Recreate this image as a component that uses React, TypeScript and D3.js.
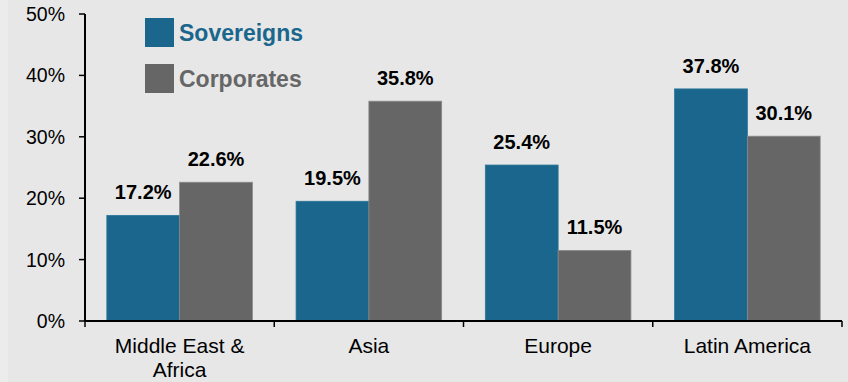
import React from "react";
import * as d3 from "d3";

const regions = ["Middle East & Africa", "Asia", "Europe", "Latin America"];
const regionLines = [["Middle East &", "Africa"], ["Asia"], ["Europe"], ["Latin America"]];
const seriesNames = ["Sovereigns", "Corporates"];
const sovereigns = [17.2, 19.5, 25.4, 37.8];
const corporates = [22.6, 35.8, 11.5, 30.1];
const yTicks = [0, 10, 20, 30, 40, 50];
const colors = ["#1a668c", "#666666"];

const W = 848;
const H = 382;
const FONT = "'Liberation Sans', Arial, sans-serif";

export default function App() {
  const x = d3.scaleBand<string>().domain(regions).range([85, 842]);
  const inner = d3
    .scaleBand<string>()
    .domain(seriesNames)
    .range([0, x.bandwidth()])
    .paddingOuter(0.3)
    .paddingInner(0);
  const y = d3.scaleLinear().domain([0, 50]).range([321, 14]);
  const values = [sovereigns, corporates];

  return (
    <svg width={W} height={H} style={{ display: "block", position: "absolute", left: 0, top: 0 }} fontFamily={FONT}>
      <rect x={0} y={0} width={W} height={H} fill="#ececec" />
      <rect x={8} y={0} width={W - 8} height={H} fill="#e7e7e7" />

      {/* bars and value labels */}
      {regions.map((r, i) => (
        <g key={r} transform={`translate(${x(r)},0)`}>
          {seriesNames.map((s, k) => {
            const v = values[k][i];
            const bx = inner(s)!;
            const bw = inner.bandwidth();
            return (
              <g key={s}>
                <rect
                  x={bx}
                  y={y(v)}
                  width={bw}
                  height={y(0) - y(v)}
                  fill={colors[k]}
                  stroke={k === 1 ? "#8a8a8a" : "#2c7599"}
                  strokeWidth={0.8}
                />
                <text
                  x={bx + bw / 2}
                  y={y(v) - 16}
                  textAnchor="middle"
                  fontSize={20}
                  fontWeight="bold"
                  fill="#000"
                >
                  {v.toFixed(1)}%
                </text>
              </g>
            );
          })}
        </g>
      ))}

      {/* y axis */}
      <line x1={85} x2={85} y1={y(50)} y2={y(0)} stroke="#000" strokeWidth={2} />
      {yTicks.map((t) => (
        <g key={t}>
          <line x1={79} x2={85} y1={y(t)} y2={y(t)} stroke="#000" strokeWidth={1.5} />
          <text x={65} y={y(t) + 7} textAnchor="end" fontSize={19.5} fill="#000">
            {t}%
          </text>
        </g>
      ))}

      {/* x axis */}
      <line x1={85} x2={842} y1={y(0)} y2={y(0)} stroke="#000" strokeWidth={2} />
      {[...regions.map((r) => x(r)!), 842].map((px, i) => (
        <line key={i} x1={px} x2={px} y1={y(0)} y2={y(0) + 6} stroke="#000" strokeWidth={1.5} />
      ))}
      {regions.map((r, i) => (
        <text key={r} x={x(r)! + x.bandwidth() / 2} textAnchor="middle" fontSize={21} fill="#000">
          {regionLines[i].map((ln, j) => (
            <tspan key={j} x={x(r)! + x.bandwidth() / 2} y={353 + j * 24}>
              {ln}
            </tspan>
          ))}
        </text>
      ))}

      {/* legend */}
      {seriesNames.map((s, k) => (
        <g key={s} transform={`translate(145,${18 + k * 46})`}>
          <rect x={0} y={0} width={29} height={29} fill={colors[k]} />
          <text x={34} y={23} fontSize={23} fontWeight="bold" fill={colors[k]}>
            {s}
          </text>
        </g>
      ))}
    </svg>
  );
}
